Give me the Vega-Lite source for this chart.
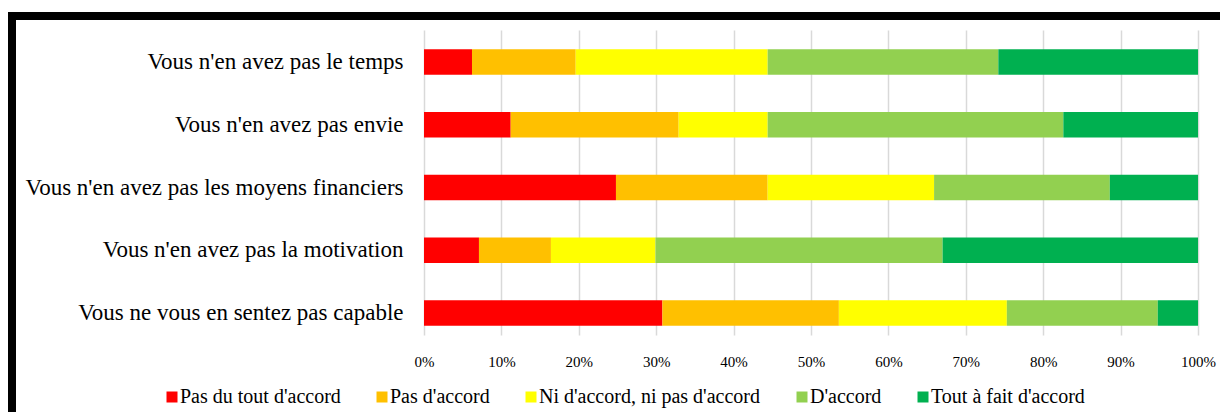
{
  "$schema": "https://vega.github.io/schema/vega-lite/v6.json",
  "width": 1208,
  "height": 396,
  "autosize": {"type": "none"},
  "padding": {"left": 12, "top": 16, "right": 0, "bottom": 0},
  "background": "white",
  "data": {
    "values": [
      {"q": "Vous n'en avez pas le temps", "c": "Pas du tout d'accord", "o": 1, "v": 6.2},
      {"q": "Vous n'en avez pas le temps", "c": "Pas d'accord", "o": 2, "v": 13.4},
      {"q": "Vous n'en avez pas le temps", "c": "Ni d'accord, ni pas d'accord", "o": 3, "v": 24.8},
      {"q": "Vous n'en avez pas le temps", "c": "D'accord", "o": 4, "v": 29.8},
      {"q": "Vous n'en avez pas le temps", "c": "Tout à fait d'accord", "o": 5, "v": 25.8},
      {"q": "Vous n'en avez pas envie", "c": "Pas du tout d'accord", "o": 1, "v": 11.2},
      {"q": "Vous n'en avez pas envie", "c": "Pas d'accord", "o": 2, "v": 21.7},
      {"q": "Vous n'en avez pas envie", "c": "Ni d'accord, ni pas d'accord", "o": 3, "v": 11.5},
      {"q": "Vous n'en avez pas envie", "c": "D'accord", "o": 4, "v": 38.2},
      {"q": "Vous n'en avez pas envie", "c": "Tout à fait d'accord", "o": 5, "v": 17.4},
      {"q": "Vous n'en avez pas les moyens financiers", "c": "Pas du tout d'accord", "o": 1, "v": 24.8},
      {"q": "Vous n'en avez pas les moyens financiers", "c": "Pas d'accord", "o": 2, "v": 19.6},
      {"q": "Vous n'en avez pas les moyens financiers", "c": "Ni d'accord, ni pas d'accord", "o": 3, "v": 21.5},
      {"q": "Vous n'en avez pas les moyens financiers", "c": "D'accord", "o": 4, "v": 22.7},
      {"q": "Vous n'en avez pas les moyens financiers", "c": "Tout à fait d'accord", "o": 5, "v": 11.4},
      {"q": "Vous n'en avez pas la motivation", "c": "Pas du tout d'accord", "o": 1, "v": 7.1},
      {"q": "Vous n'en avez pas la motivation", "c": "Pas d'accord", "o": 2, "v": 9.3},
      {"q": "Vous n'en avez pas la motivation", "c": "Ni d'accord, ni pas d'accord", "o": 3, "v": 13.5},
      {"q": "Vous n'en avez pas la motivation", "c": "D'accord", "o": 4, "v": 37.1},
      {"q": "Vous n'en avez pas la motivation", "c": "Tout à fait d'accord", "o": 5, "v": 33.0},
      {"q": "Vous ne vous en sentez pas capable", "c": "Pas du tout d'accord", "o": 1, "v": 30.8},
      {"q": "Vous ne vous en sentez pas capable", "c": "Pas d'accord", "o": 2, "v": 22.8},
      {"q": "Vous ne vous en sentez pas capable", "c": "Ni d'accord, ni pas d'accord", "o": 3, "v": 21.7},
      {"q": "Vous ne vous en sentez pas capable", "c": "D'accord", "o": 4, "v": 19.5},
      {"q": "Vous ne vous en sentez pas capable", "c": "Tout à fait d'accord", "o": 5, "v": 5.2}
    ]
  },
  "mark": {"type": "bar"},
  "encoding": {
    "y": {
      "field": "q",
      "type": "nominal",
      "sort": ["Vous n'en avez pas le temps", "Vous n'en avez pas envie", "Vous n'en avez pas les moyens financiers", "Vous n'en avez pas la motivation", "Vous ne vous en sentez pas capable"],
      "scale": {"paddingInner": 0.594, "paddingOuter": 0.9524, "align": 0.2786},
      "axis": {"title": null, "labelPadding": -391, "labelAlign": "right", "labelFontSize": 23, "labelLimit": 500, "grid": false}
    },
    "x": {
      "field": "v",
      "type": "quantitative",
      "stack": "zero",
      "scale": {"domain": [-53.23, 102.84], "nice": false, "zero": false},
      "axis": {
        "title": null,
        "values": [0, 10, 20, 30, 40, 50, 60, 70, 80, 90, 100],
        "labelExpr": "datum.value + '%'",
        "labelPadding": -51,
        "labelBaseline": "middle",
        "labelFontSize": 15,
        "labelFlush": false,
        "labelOverlap": false,
        "grid": true,
        "gridColor": "#D9D9D9",
        "gridWidth": 1.5,
        "gridDash": [0, 77, 305, 2000]
      }
    },
    "color": {
      "field": "c",
      "type": "nominal",
      "scale": {
        "domain": ["Pas du tout d'accord", "Pas d'accord", "Ni d'accord, ni pas d'accord", "D'accord", "Tout à fait d'accord"],
        "range": ["#FF0000", "#FFC000", "#FFFF00", "#92D050", "#00B050"]
      },
      "legend": {
        "orient": "none",
        "legendX": 150,
        "legendY": 371,
        "direction": "horizontal",
        "title": null,
        "symbolType": "square",
        "symbolSize": 121,
        "symbolStrokeWidth": 0,
        "symbolOpacity": 1,
        "labelFontSize": 20,
        "labelColor": "#000000",
        "columnPadding": 31,
        "labelOffset": -2,
        "labelLimit": 400
      }
    },
    "order": {"field": "o", "type": "quantitative"}
  },
  "config": {
    "view": {"stroke": "black", "strokeWidth": 8, "strokeDash": [1208, 1604, 396], "strokeCap": "square"},
    "font": "Liberation Serif",
    "axis": {"domain": false, "ticks": false, "tickSize": 0, "labelColor": "#000000", "labelFont": "Liberation Serif"},
    "legend": {"labelFont": "Liberation Serif"}
  }
}
